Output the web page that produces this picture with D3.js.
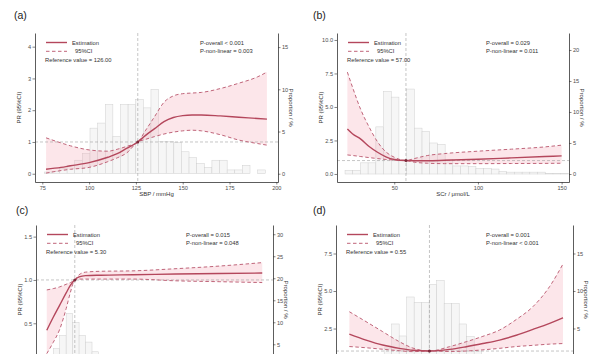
<!DOCTYPE html>
<html>
<head>
<meta charset="utf-8">
<script src="https://cdn.jsdelivr.net/npm/d3@7"></script>
<style>
  html, body { margin: 0; padding: 0; background: #fff; }
  svg { display: block; font-family: "Liberation Sans", Arial, sans-serif; }
  .tick text { fill: #4d4d4d; font-size: 5.6px; }
  .tick line { stroke: #333; stroke-width: 0.6; }
  .domain { stroke: #333; stroke-width: 0.8; }
</style>
</head>
<body>
<div id="chart"></div>
<script>
// ---- panel (a): SBP
const aX     = [77, 85, 90, 100, 110, 115, 120, 126, 130, 135, 140, 145, 150, 155, 160, 170, 180, 190, 195];
const aEst   = [0.14, 0.2, 0.25, 0.35, 0.52, 0.63, 0.8, 1.0, 1.2, 1.42, 1.64, 1.77, 1.83, 1.85, 1.85, 1.82, 1.78, 1.74, 1.72];
const aUpper = [1.13, 0.97, 0.88, 0.75, 0.71, 0.77, 0.86, 1.0, 1.35, 1.8, 2.25, 2.45, 2.52, 2.54, 2.56, 2.68, 2.85, 3.05, 3.2];
const aLower = [0.02, 0.1, 0.14, 0.2, 0.38, 0.5, 0.65, 1.0, 1.08, 1.17, 1.25, 1.31, 1.35, 1.37, 1.35, 1.23, 1.06, 0.95, 0.9];
const aHist  = [0.2, 0.3, 0.6, 1.0, 1.6, 2.4, 5.4, 6.0, 8.2, 4.4, 8.2, 8.2, 8.8, 7.8, 10.0, 3.8, 3.8, 3.7, 2.6, 1.9, 1.2, 0.75, 1.6, 1.6, 0.45, 0.45, 1.0, 0, 0.45];
const aBin   = { start: 76.06, width: 4.07 };

// ---- panel (b): SCr
const bX     = [22, 25, 30, 35, 40, 45, 50, 57, 62, 70, 80, 100, 120, 140, 150];
const bEst   = [3.35, 3.0, 2.6, 2.05, 1.62, 1.28, 1.08, 1.0, 0.99, 0.99, 1.02, 1.1, 1.2, 1.3, 1.35];
const bUpper = [7.6, 6.5, 4.8, 3.5, 2.4, 1.65, 1.25, 1.0, 1.15, 1.38, 1.52, 1.7, 1.85, 2.02, 2.15];
const bLower = [1.42, 1.38, 1.3, 1.22, 1.15, 1.08, 1.04, 1.0, 0.88, 0.8, 0.77, 0.77, 0.78, 0.79, 0.8];
const bHist  = [0.6, 0.6, 1.8, 1.8, 7.6, 13.3, 12.4, 2.2, 13.7, 7.4, 6.9, 5.0, 4.8, 2.3, 1.3, 1.3, 1.2, 0.9, 0.9, 0.8, 0.4, 0.3, 0.3, 0.3, 0.3, 0.3, 0.1, 0.1, 0.1];
const bBin   = { start: 20.6, width: 4.6 };

// ---- panel (c)
const cX     = [4.0, 4.3, 4.6, 4.9, 5.1, 5.3, 5.5, 5.8, 6.5, 8, 10, 12, 14];
const cEst   = [0.42, 0.57, 0.71, 0.85, 0.94, 1.0, 1.035, 1.05, 1.055, 1.06, 1.068, 1.075, 1.08];
const cUpper = [0.885, 0.9, 0.92, 0.95, 0.97, 1.0, 1.06, 1.09, 1.1, 1.105, 1.13, 1.16, 1.2];
const cLower = [0.15, 0.28, 0.43, 0.67, 0.86, 1.0, 1.01, 1.01, 1.01, 1.01, 0.99, 0.98, 0.97];
const cHist  = [1.5, 4.0, 7.0, 12.0, 10.0, 7.0, 5.5, 3.3, 1.8, 1.2, 0.8, 0.6, 0.5, 0.4, 0.3, 0.3, 0.2, 0.2, 0.2, 0.1, 0.1, 0.1, 0.1, 0.1, 0.1, 0.1, 0.1, 0.1, 0.1, 0.1, 0.1, 0.1, 0.1];
const cBin   = { start: 4.0, width: 0.3 };

// ---- panel (d)
const dX     = [0.31, 0.36, 0.41, 0.46, 0.5, 0.55, 0.61, 0.66, 0.71, 0.76, 0.81, 0.86, 0.91, 0.95];
const dEst   = [2.13, 1.73, 1.4, 1.18, 1.05, 1.0, 1.11, 1.29, 1.5, 1.73, 2.05, 2.44, 2.85, 3.22];
const dUpper = [3.62, 2.96, 2.29, 1.62, 1.2, 1.0, 1.29, 1.62, 1.98, 2.4, 3.1, 3.96, 5.3, 6.8];
const dLower = [1.3, 1.22, 1.12, 1.02, 0.96, 1.0, 0.97, 1.0, 1.08, 1.18, 1.3, 1.38, 1.46, 1.5];
const dHist  = [0.2, 0.3, 0.5, 0.8, 1.5, 2.4, 5.6, 4.0, 9.2, 8.5, 8.5, 10.9, 11.4, 8.3, 8.3, 5.6, 3.9, 2.0, 1.5, 1.0, 0.8, 0.5, 0.4, 0.3, 0.2, 0.2, 0.1, 0.1, 0.1];
const dBin   = { start: 0.302, width: 0.02247 };

const width = 607;
const height = 354;
const estColor = "#b4475c";
const ciColor = "#c0657a";
const bandColor = "#f3a4b3";

const panels = [
  { label: "(a)", lx: 14, ly: 19, left: 35, right: 278, top: 33, bottom: 182,
    xDomain: [71.1, 200.9], yDomain: [-0.26, 4.43], pDomain: [-0.98, 16.67],
    xTicks: [75, 100, 125, 150, 175, 200], yTicks: [0, 1, 2, 3, 4], yFmt: d3.format("d"), pTicks: [0, 5, 10, 15],
    xTitle: "SBP / mmHg", ref: 126, refText: "Reference value = 126.00",
    pOverall: "P-overall < 0.001", pNon: "P-non-linear = 0.003", pX: 200,
    xs: aX, est: aEst, hi: aUpper, lo: aLower, hist: aHist, bin: aBin },
  { label: "(b)", lx: 313, ly: 19, left: 337, right: 569, top: 33, bottom: 182,
    xDomain: [15.8, 154.4], yDomain: [-0.6, 10.52], pDomain: [-1.29, 22.74],
    xTicks: [50, 100, 150], yTicks: [0, 2.5, 5, 7.5, 10], yFmt: d3.format(".1f"), pTicks: [0, 5, 10, 15, 20],
    xTitle: "SCr / μmol/L", ref: 57, refText: "Reference value = 57.00",
    pOverall: "P-overall = 0.029", pNon: "P-non-linear = 0.011", pX: 486,
    xs: bX, est: bEst, hi: bUpper, lo: bLower, hist: bHist, bin: bBin },
  { label: "(c)", lx: 16, ly: 214, left: 36, right: 273, top: 225, bottom: 374,
    xDomain: [3.5, 14.5], yDomain: [-0.085, 1.634], pDomain: [-1.75, 32.1],
    xTicks: [], yTicks: [0.5, 1, 1.5], yFmt: d3.format(".1f"), pTicks: [5, 10, 15, 20, 25, 30],
    xTitle: "", ref: 5.3, refText: "Reference value = 5.30",
    pOverall: "P-overall = 0.015", pNon: "P-non-linear = 0.048", pX: 186,
    xs: cX, est: cEst, hi: cUpper, lo: cLower, hist: cHist, bin: cBin },
  { label: "(d)", lx: 313, ly: 214, left: 336, right: 573, top: 225, bottom: 374,
    xDomain: [0.27, 0.98], yDomain: [-0.53, 9.4], pDomain: [-1.07, 18.8],
    xTicks: [], yTicks: [2.5, 5, 7.5], yFmt: d3.format(".1f"), pTicks: [5, 10, 15],
    xTitle: "", ref: 0.55, refText: "Reference value = 0.55",
    pOverall: "P-overall = 0.001", pNon: "P-non-linear < 0.001", pX: 486,
    xs: dX, est: dEst, hi: dUpper, lo: dLower, hist: dHist, bin: dBin }
];

const svg = d3.select("#chart").append("svg").attr("width", width).attr("height", height);

panels.forEach((p, k) => drawPanel(p, k));

function drawPanel(p, k) {
  const x = d3.scaleLinear().domain(p.xDomain).range([p.left, p.right]);
  const y = d3.scaleLinear().domain(p.yDomain).range([p.bottom, p.top]);
  const yp = d3.scaleLinear().domain(p.pDomain).range([p.bottom, p.top]);
  const g = svg.append("g");

  g.append("clipPath").attr("id", "clip" + k).append("rect")
    .attr("x", p.left).attr("y", p.top).attr("width", p.right - p.left).attr("height", p.bottom - p.top);
  const plot = g.append("g").attr("clip-path", `url(#clip${k})`);

  // histogram (secondary axis, %)
  const bins = p.hist.map((v, i) => ({ x0: p.bin.start + i * p.bin.width, x1: p.bin.start + (i + 1) * p.bin.width, v }));
  plot.selectAll("rect.bar").data(bins.filter(d => d.v > 0)).join("rect")
    .attr("class", "bar")
    .attr("x", d => x(d.x0)).attr("width", d => x(d.x1) - x(d.x0))
    .attr("y", d => yp(d.v)).attr("height", d => yp(0) - yp(d.v))
    .attr("fill", "#f6f6f6").attr("stroke", "#d0d0d0").attr("stroke-width", 0.5);

  const pts = p.xs.map((xv, i) => ({ x: xv, est: p.est[i], hi: p.hi[i], lo: p.lo[i] }));

  plot.append("path").datum(pts)
    .attr("d", d3.area().x(d => x(d.x)).y0(d => y(d.lo)).y1(d => y(d.hi)).curve(d3.curveMonotoneX))
    .attr("fill", bandColor).attr("fill-opacity", 0.28);

  // reference lines
  plot.append("line").attr("x1", p.left).attr("x2", p.right).attr("y1", y(1)).attr("y2", y(1))
    .attr("stroke", "#a0a0a0").attr("stroke-width", 0.6).attr("stroke-dasharray", "3,2");
  plot.append("line").attr("x1", x(p.ref)).attr("x2", x(p.ref)).attr("y1", p.top).attr("y2", p.bottom)
    .attr("stroke", "#a0a0a0").attr("stroke-width", 0.6).attr("stroke-dasharray", "3,2");

  ["hi", "lo"].forEach(key => {
    plot.append("path").datum(pts)
      .attr("d", d3.line().x(d => x(d.x)).y(d => y(d[key])).curve(d3.curveMonotoneX))
      .attr("fill", "none").attr("stroke", ciColor).attr("stroke-width", 1).attr("stroke-dasharray", "3.5,2.5");
  });
  plot.append("path").datum(pts)
    .attr("d", d3.line().x(d => x(d.x)).y(d => y(d.est)).curve(d3.curveMonotoneX))
    .attr("fill", "none").attr("stroke", estColor).attr("stroke-width", 1.4);
  plot.append("circle").attr("cx", x(p.ref)).attr("cy", y(1)).attr("r", 1.5).attr("fill", "#7a2a3a");

  // axes
  g.append("g").attr("transform", `translate(${p.left},0)`)
    .call(d3.axisLeft(y).tickValues(p.yTicks).tickFormat(p.yFmt).tickSize(2.5).tickSizeOuter(0).tickPadding(1.5));
  g.append("g").attr("transform", `translate(${p.right},0)`)
    .call(d3.axisRight(yp).tickValues(p.pTicks).tickSize(2.5).tickSizeOuter(0).tickPadding(1.5));
  g.append("g").attr("transform", `translate(0,${p.bottom})`)
    .call(d3.axisBottom(x).tickValues(p.xTicks).tickSize(2.5).tickSizeOuter(0).tickPadding(1.5));

  // titles
  g.append("text").attr("x", p.lx).attr("y", p.ly).attr("font-size", 10.5).attr("fill", "#222").text(p.label);
  g.append("text").attr("transform", `translate(${p.left - 14},${(p.top + p.bottom) / 2}) rotate(-90)`)
    .attr("text-anchor", "middle").attr("font-size", 6).attr("fill", "#333").text("PR (95%CI)");
  g.append("text").attr("transform", `translate(${p.right + 11},${(p.top + p.bottom) / 2}) rotate(90)`)
    .attr("text-anchor", "middle").attr("font-size", 6).attr("fill", "#333").text("Proportion / %");
  if (p.xTitle) {
    g.append("text").attr("x", (p.left + p.right) / 2).attr("y", p.bottom + 14)
      .attr("text-anchor", "middle").attr("font-size", 6).attr("fill", "#333").text(p.xTitle);
  }

  // legend and annotations
  const lg = g.append("g").attr("font-size", 5.8).attr("fill", "#333");
  const ly1 = p.top + 9.5, ly2 = p.top + 18.3, ly3 = p.top + 27;
  lg.append("line").attr("x1", p.left + 11).attr("x2", p.left + 32).attr("y1", ly1).attr("y2", ly1)
    .attr("stroke", estColor).attr("stroke-width", 1.4);
  lg.append("line").attr("x1", p.left + 11).attr("x2", p.left + 32).attr("y1", ly2).attr("y2", ly2)
    .attr("stroke", ciColor).attr("stroke-width", 1).attr("stroke-dasharray", "3.5,2.5");
  lg.append("text").attr("x", p.left + 37).attr("y", ly1).attr("dy", "0.35em").text("Estimation");
  lg.append("text").attr("x", p.left + 40).attr("y", ly2).attr("dy", "0.35em").text("95%CI");
  lg.append("text").attr("x", p.left + 10).attr("y", ly3).attr("dy", "0.35em").text(p.refText);
  lg.append("text").attr("x", p.pX).attr("y", ly1).attr("dy", "0.35em").text(p.pOverall);
  lg.append("text").attr("x", p.pX).attr("y", ly2).attr("dy", "0.35em").text(p.pNon);
}
</script>
</body>
</html>
